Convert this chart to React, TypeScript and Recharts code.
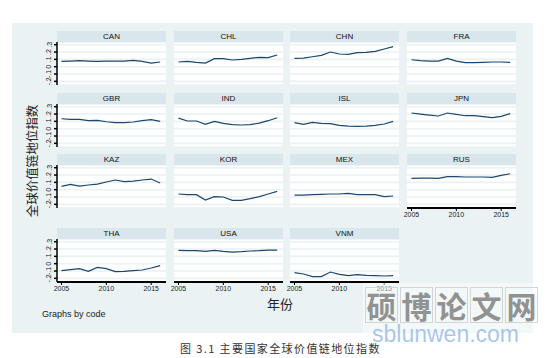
import React from 'react';
import { CartesianGrid, Line, LineChart, XAxis, YAxis } from 'recharts';

const years = [2005, 2006, 2007, 2008, 2009, 2010, 2011, 2012, 2013, 2014, 2015, 2016];
const yTicks = [-0.2, -0.1, 0, 0.1, 0.2, 0.3];
const xTicks = [2005, 2010, 2015];

const can = [0.073, 0.077, 0.082, 0.077, 0.073, 0.077, 0.077, 0.077, 0.086, 0.073, 0.05, 0.064];
const chl = [0.064, 0.073, 0.059, 0.05, 0.109, 0.109, 0.091, 0.1, 0.114, 0.127, 0.123, 0.159];
const chn = [0.114, 0.118, 0.136, 0.155, 0.2, 0.173, 0.168, 0.191, 0.195, 0.209, 0.241, 0.273];
const fra = [0.095, 0.082, 0.077, 0.077, 0.114, 0.077, 0.055, 0.055, 0.059, 0.064, 0.064, 0.059];
const gbr = [0.136, 0.127, 0.127, 0.109, 0.114, 0.095, 0.082, 0.082, 0.091, 0.109, 0.123, 0.1];
const ind = [0.145, 0.105, 0.105, 0.059, 0.1, 0.073, 0.055, 0.05, 0.055, 0.077, 0.109, 0.15];
const isl = [0.082, 0.059, 0.086, 0.073, 0.068, 0.045, 0.036, 0.032, 0.036, 0.045, 0.064, 0.1];
const jpn = [0.214, 0.2, 0.186, 0.173, 0.214, 0.195, 0.177, 0.177, 0.164, 0.15, 0.168, 0.205];
const kaz = [0.045, 0.073, 0.05, 0.064, 0.077, 0.105, 0.132, 0.109, 0.118, 0.132, 0.145, 0.091];
const kor = [-0.059, -0.068, -0.068, -0.141, -0.095, -0.1, -0.145, -0.145, -0.123, -0.095, -0.059, -0.023];
const mex = [-0.073, -0.073, -0.068, -0.064, -0.059, -0.059, -0.05, -0.068, -0.068, -0.068, -0.095, -0.086];
const rus = [0.155, 0.159, 0.159, 0.155, 0.177, 0.177, 0.173, 0.173, 0.173, 0.168, 0.195, 0.218];
const tha = [-0.095, -0.082, -0.068, -0.105, -0.05, -0.068, -0.109, -0.105, -0.095, -0.086, -0.059, -0.027];
const usa = [0.182, 0.177, 0.177, 0.168, 0.182, 0.168, 0.159, 0.164, 0.173, 0.177, 0.186, 0.186];
const vnm = [-0.123, -0.141, -0.177, -0.177, -0.114, -0.145, -0.164, -0.15, -0.159, -0.164, -0.168, -0.164];

const codes = ['CAN', 'CHL', 'CHN', 'FRA', 'GBR', 'IND', 'ISL', 'JPN', 'KAZ', 'KOR', 'MEX', 'RUS', 'THA', 'USA', 'VNM'];
const series = [can, chl, chn, fra, gbr, ind, isl, jpn, kaz, kor, mex, rus, tha, usa, vnm];

const colLeft = [57, 174, 290, 407];
const rowTop = [31, 93, 154, 228];
const PW = 109;
const HEAD = 11;
const PH = 43;
const YW = 16;
const XH = 16;
const PAD = 8; // room so edge tick labels are not clipped

const sans = '"Liberation Sans", Arial, sans-serif';
const cjk = '"Noto Sans CJK SC", sans-serif';

function fmtY(v: number): string {
	if (v === 0) return '0';
	return v.toFixed(1).replace('0.', '.');
}

const YTick = (props: any) => {
	const { x, y, payload } = props;
	const cx = x - 3;
	return (
		<text
			x={cx}
			y={y}
			transform={`rotate(-90, ${cx}, ${y})`}
			textAnchor="middle"
			dominantBaseline="central"
			fontSize={7}
			fill="#222"
			fontFamily={sans}
		>
			{fmtY(payload.value)}
		</text>
	);
};

interface IPanel {
	code: string;
	values: number[];
	left: number;
	top: number;
	showY: boolean;
	showX: boolean;
}

const Panel = ({ code, values, left, top, showY, showX }: IPanel) => {
	const data = years.map((y, i) => ({ year: y, v: values[i] }));
	const yw = showY ? YW : 0;
	const w = PW + yw + PAD * 2;
	const h = PH + (showX ? XH : 0);
	return (
		<>
			<div
				style={{
					position: 'absolute',
					left,
					top,
					width: PW,
					height: HEAD,
					background: '#d9e6eb',
					color: '#111',
					fontFamily: sans,
					fontSize: 8,
					lineHeight: `${HEAD}px`,
					textAlign: 'center',
				}}
			>
				{code}
			</div>
			<div
				style={{
					position: 'absolute',
					left,
					top: top + HEAD,
					width: PW,
					height: PH,
					background: '#fff',
				}}
			/>
			<div
				style={{
					position: 'absolute',
					left: left - yw - PAD,
					top: top + HEAD,
					width: w,
					height: h,
				}}
			>
				<LineChart
					width={w}
					height={h}
					data={data}
					margin={{ top: 0, right: PAD, bottom: 0, left: PAD }}
				>
					<CartesianGrid vertical={false} stroke="#eaf2f3" strokeWidth={1.6} />
					<XAxis
						dataKey="year"
						type="number"
						domain={[2004.5, 2016.65]}
						ticks={xTicks}
						hide={!showX}
						height={XH}
						tickSize={3}
						tickMargin={1}
						tick={{ fontSize: 7, fill: '#222', fontFamily: sans }}
						axisLine={{ stroke: '#000', strokeWidth: 2 }}
						tickLine={{ stroke: '#000' }}
						interval={0}
					/>
					<YAxis
						type="number"
						domain={[-0.25, 0.337]}
						ticks={yTicks}
						hide={!showY}
						width={YW}
						tickSize={3}
						tick={<YTick />}
						axisLine={{ stroke: '#000', strokeWidth: 1.5 }}
						tickLine={{ stroke: '#000', strokeWidth: 1.5 }}
						allowDataOverflow
						interval={0}
					/>
					<Line
						type="linear"
						dataKey="v"
						stroke="#1a476f"
						strokeWidth={1.2}
						dot={false}
						isAnimationActive={false}
					/>
				</LineChart>
			</div>
		</>
	);
};

export default function App() {
	return (
		<div
			style={{
				position: 'absolute',
				left: 0,
				top: 0,
				width: 554,
				height: 358,
				background: '#fff',
				overflow: 'hidden',
			}}
		>
			<div
				style={{
					position: 'absolute',
					left: 12,
					top: 23,
					width: 521,
					height: 310,
					background: '#eaf2f3',
				}}
			/>
			{codes.map((code, i) => {
				const r = Math.floor(i / 4);
				const c = i % 4;
				const showX = r === 3 || (r === 2 && c === 3);
				return (
					<Panel
						key={code}
						code={code}
						values={series[i]}
						left={colLeft[c]}
						top={rowTop[r]}
						showY={c === 0}
						showX={showX}
					/>
				);
			})}
			<div
				style={{
					position: 'absolute',
					left: 31,
					top: 161,
					transform: 'translate(-50%, -50%) rotate(-90deg)',
					whiteSpace: 'nowrap',
					fontFamily: cjk,
					fontSize: 12.5,
					color: '#222',
				}}
			>
				全球价值链地位指数
			</div>
			<div
				style={{
					position: 'absolute',
					left: 267,
					top: 294,
					fontFamily: cjk,
					fontSize: 13,
					color: '#222',
				}}
			>
				年份
			</div>
			<div
				style={{
					position: 'absolute',
					left: 42,
					top: 309,
					fontFamily: sans,
					fontSize: 9,
					color: '#222',
				}}
			>
				Graphs by code
			</div>
			<div
				style={{
					position: 'absolute',
					left: 363,
					top: 283,
					width: 172,
					height: 50,
					background: 'rgba(255,255,255,0.45)',
				}}
			/>
			<div
				style={{
					position: 'absolute',
					left: 180,
					top: 340,
					fontFamily: cjk,
					fontSize: 11,
					letterSpacing: 1.4,
					color: '#333',
					whiteSpace: 'nowrap',
				}}
			>
				图 3.1 主要国家全球价值链地位指数
			</div>
			<div style={{ position: 'absolute', left: 365, top: 287, display: 'flex' }}>
				{['硕', '博', '论', '文', '网'].map((ch) => (
					<div
						key={ch}
						style={{
							width: 33,
							height: 36,
							marginRight: 2,
							border: '1px solid #d4d4d4',
							boxSizing: 'border-box',
							fontFamily: cjk,
							fontSize: 30,
							fontWeight: 700,
							lineHeight: '34px',
							textAlign: 'center',
							color: '#929292',
						}}
					>
						{ch}
					</div>
				))}
			</div>
			<div
				style={{
					position: 'absolute',
					left: 372,
					top: 321,
					fontFamily: sans,
					fontSize: 23,
					color: 'rgba(140,180,230,0.75)',
					whiteSpace: 'nowrap',
				}}
			>
				sblunwen.com
			</div>
		</div>
	);
}
